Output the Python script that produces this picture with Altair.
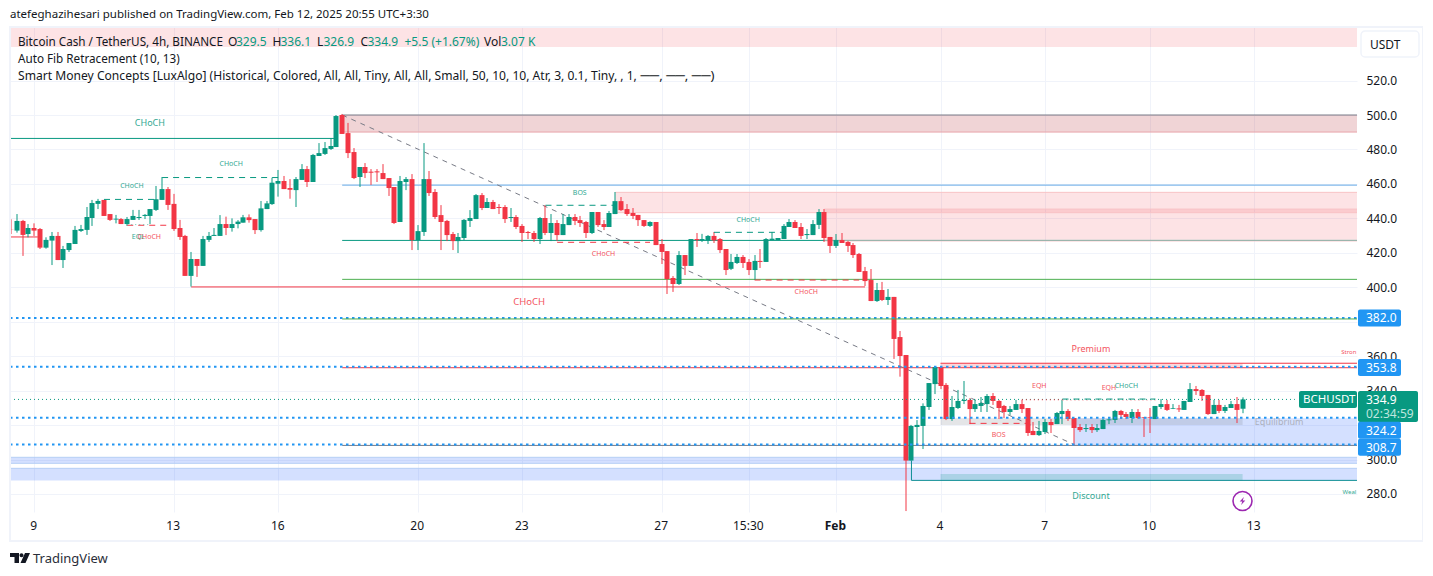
import altair as alt
import pandas as pd

FONT = "Noto Sans"
GREEN = "#089981"
RED = "#f23645"
BLUE = "#2196f3"
INK = "#131722"

opens = [433.6,432.9,438.5,430.9,434.4,433.8,423,427.1,429.8,415.8,
 421.6,425.1,432.7,433.3,440.2,448.4,450.7,442.5,439.3,439.6,
 436.7,439.1,440.2,441.4,441.4,444.9,450.7,457,448.4,434.4,
 429.8,406.6,416.4,412.4,427.5,429.8,429.8,436.7,434.4,436.7,
 437.5,440.6,439.6,433.2,445.4,448.3,460.1,461.7,457.6,456.4,
 462.3,468.6,461.1,476.2,477.4,480.3,481.4,500,489.5,478.5,
 464,469.8,467.1,467.3,466.3,463.4,458.2,437.9,461.1,462.8,
 427.4,432.1,462.8,455.3,441.9,438.5,430.9,426.8,428.6,438.5,
 439.6,453.5,446,449.5,446.6,446.6,440.2,440.8,435.6,432.1,
 431.5,428,440.2,431.5,437.3,430.3,436.1,440.8,439,437.9,
 431.5,443.7,436.7,435,442.5,450,445.4,443.1,442,439,
 435.6,437.9,425.1,421,405.4,401.9,418.7,412.4,428,427.2,
 427.2,429.8,428,422.2,410.7,414.1,417.6,414.7,410,415.3,
 414.7,427.4,427.4,428,435,437.9,435,430.3,430.3,436.2,
 443.7,429.2,424,427.4,426.3,424.5,419.3,409.4,404.2,392,
 398.4,392.6,394.4,371.1,360.7,299.4,318.9,319.5,330.5,343.8,
 353.7,343.3,323.5,329.9,334,334.6,329.3,331.1,332.2,336.9,
 334,331.1,327.6,328.8,332.2,329.9,316.6,314.2,316,321.8,
 320.6,326.4,328.2,324.1,318.9,317.7,318.9,317.1,317.7,322.8,
 323,328.2,326.4,324.1,327.6,324.7,324.7,323.5,330.5,332.2,
 329.5,329.7,328.8,333.4,340.9,340.4,337.5,326.4,331.7,328.2,
 329.9,332.2,329.5]
highs = [439.5,442.5,439.1,436.7,437.1,434.4,429,432.1,432.1,424,
 425.7,435.6,436.2,446.6,450.7,451.3,450.7,442.5,442,440.2,
 440.8,444.9,444.9,442.5,445.4,458.8,464,458.2,454.2,439.1,
 430.4,420.5,416.4,429.8,432.1,434.4,441.9,441,440,439,
 442,442.3,439.6,450.1,450.1,463.6,468.1,464.6,462.8,464,
 471.5,470.4,477.4,483.7,484.3,486.6,500,500.6,495.4,480.8,
 469.8,472.1,468.6,468.6,471.5,463.4,458.2,464.6,464,465.7,
 436.1,483.7,467.5,457,447.7,439.1,432.1,431.5,439.6,444.8,
 454.1,454.7,451.8,450.7,448.3,447.7,446,441.9,436.7,432.7,
 432.7,440.8,447.7,442.5,439,442.5,442.5,442.5,441.4,438.5,
 443.7,443.7,439,444.3,455.3,452.4,448.3,446,442,439,
 438.3,437.9,428,421,406.5,421,418.7,428,431.5,431,
 430.3,432.1,428.6,422.2,419.3,419.3,418.7,416.4,418.7,422.2,
 428.6,432.1,428.6,436.7,439.6,439,437.3,433.8,439,445.4,
 445.4,429.2,430.9,431.5,426.9,425.7,419.9,411.8,410.6,402.5,
 403.1,399,394.4,374.6,360.7,320.1,322.9,332.6,344.4,353.7,
 353.7,344.4,336.9,340.4,345.6,335.7,334.6,336.3,338,338.6,
 334.6,331.7,331.1,334.6,334.6,329.9,321.8,322.4,323.5,323.5,
 327.6,334.6,329.3,324.1,320.6,320.6,320.6,320.6,323.5,324.7,
 328.8,328.8,327.6,329.3,329.3,324.7,329.9,331.1,335.1,334.6,
 332.2,331.7,334,344.4,342.7,340.9,337.5,334.6,334.6,331.7,
 334,336.3,336.1]
lows = [430.9,431.7,418.2,429,429.8,422.2,422.4,412.9,415.8,411.2,
 420.5,425.1,432.1,430.4,435.6,445.4,441.4,438.5,437.1,436.7,
 435.6,439.1,439.1,439.6,436.7,444.3,450.7,444.9,432.7,427.5,
 406.6,400.4,406,412.4,426.3,429.8,429.8,430.3,432.3,434.2,
 437.5,437.5,430.9,432.3,445.4,447.8,452.6,457,451.4,446.6,
 462.3,458.2,461.1,476.2,476.8,479.7,481.4,489,475,462.8,
 458.2,463.4,459.4,461.1,462.8,453,436.7,437.9,456.4,421.6,
 421.6,429.8,453,439.6,421.6,426.8,421.6,419.9,427.4,435,
 439.6,444.8,446,445.4,442.5,437.3,437.9,433.8,426.3,428,
 426.3,425.1,430.3,426.8,426.8,430.3,436.1,436.1,435,428.6,
 430.9,435,433.2,435,442.5,444.3,441.4,439.6,435.6,435,
 435,424.5,413.5,396.1,397.3,401.3,407.1,412.4,423.4,426.3,
 425.1,425.7,419.9,407.1,410,413.5,411.2,407.1,404.2,411.2,
 414.7,427.4,427.4,428,435,434.4,428,428,430.3,433.8,
 426.3,419.9,422.8,425.7,420.5,417,408.9,400.7,392,391.5,
 392,389.7,358.4,348.1,270.1,299.4,308.4,306.1,328.8,338,
 340.9,322.9,322.4,329.3,332.2,320.6,327.6,327.6,327.6,331.7,
 323.5,324.1,325.9,328.8,327,313.7,314.2,313.7,314.8,315.4,
 320.6,320.6,322.4,308.4,316,316,315.4,316,317.7,320.6,
 321.2,323.5,323.5,321.2,323.5,313.1,315.4,323.5,329.3,328.2,
 329.3,327.6,328.8,333.4,337.5,334,325.9,326.4,327,327,
 329.9,321.2,326.9]
closes = [433.5,438.5,430.4,434.4,432.9,423,427.5,429.8,415.8,422.2,
 425.7,433.3,433.8,440.8,448.9,450.1,441.4,439.1,439.8,436.7,
 439.6,441.4,440.8,442,445.4,451.1,457,447.8,433.8,429.2,
 406.6,416.4,412.4,428,429.8,430.4,436.7,434.4,436.7,438.1,
 440.6,439,433.2,445.8,448.7,460.7,461.7,457,456.6,462.8,
 468.6,461.1,476.8,477.9,480.8,482,499.4,489,477.9,463.4,
 469.8,466.3,466.5,466.7,462.8,457.6,437.3,461.7,462.8,427.4,
 432.6,462.8,454.7,440.8,437.9,430.3,426.8,429.2,439.1,440.2,
 453.5,446,449.5,445.4,446,439.6,440.8,435,431.5,431.5,
 428,440.2,431.5,437.3,430.3,436.7,440.8,438.5,437.3,431.5,
 443.7,436.1,435,443.1,450,444.8,442.5,441.4,439,435.6,
 437.9,424.5,420.5,404.8,401.9,418.7,412.4,428,427.4,428,
 429.8,427.2,421.6,410,414.7,417.6,414.1,410,415.3,414.7,
 428,428.2,428.6,435.6,437.9,434.4,429.8,430.9,436.7,443.7,
 428.6,424,427.4,425.7,424,418.7,408.9,403.6,392,398.4,
 392.6,394.4,370,360.1,299.4,319.5,320.1,331.1,344.4,353.7,
 342.7,323.5,330.5,334,334.6,329.3,332.2,332.8,336.9,334,
 329.9,327.6,329.3,332.2,329.3,315.4,314.2,316.6,321.8,320,
 327,328.2,323.5,318.3,317.1,318.3,317.1,318.3,323,323.3,
 328.2,325.9,324.7,327.6,324.1,324.3,324.3,331.1,332.2,328.8,
 329.9,329.1,334,340.9,339.8,336.9,326.4,331.7,328.2,330.5,
 332.2,328.8,334.9]
FIRST_BAR = -4

tick_bars = [0, 24, 42, 66, 84, 108, 123, 138, 156, 174, 192, 210]
tick_labels = ["9", "13", "16", "20", "23", "27", "15:30", "Feb", "4", "7", "10", "13"]
price_ticks = [280, 300, 320, 340, 360, 380, 400, 420, 440, 460, 480, 500, 520]

# (bar from, bar to, price from, price to, colour, opacity)
boxes = [
    ("L", "R", 551.1, 539.5, RED, 0.14),
    (53, "R", 500.0, 490.1, "#b22833", 0.2),
    (100, "R", 455.1, 443.3, RED, 0.14),
    (136, "R", 445.4, 426.9, RED, 0.14),
    ("L", "R", 301.3, 297.8, "#2962ff", 0.2),
    ("L", "R", 294.9, 287.9, "#2962ff", 0.2),
    (179, "R", 323.9, 308.2, "#2962ff", 0.2),
    (156, 208, 323.9, 320.0, "#787b86", 0.2),
    (156, 208, 291.6, 287.9, GREEN, 0.2),
    (156, 208, 355.9, 353.3, RED, 0.2),
]
# (bar from, bar to, price, colour)
solid_lines = [
    ("L", 52, 486.4, GREEN), ("L", 0.6, 429.2, RED), (27, 143, 400.2, RED),
    (53, "R", 500.0, "#787b86"), (53, "R", 490.1, "#e8a5aa"),
    (53, "R", 459.3, "#64a9e6"), (53, "R", 427.2, GREEN),
    (53, "R", 404.6, "#4caf50"),
    (53, "R", 353.3, RED), (156, "R", 355.9, RED),
    (53, "R", 308.2, "#787b86"), (151, "R", 287.9, "#0f8f95"),
    ("L", "R", 301.3, "#b6cff6"), ("L", "R", 297.8, "#b6cff6"),
    ("L", "R", 294.9, "#b6cff6"),
    (100, "R", 455.1, "#f8c3c6"), (100, "R", 443.3, "#f8c3c6"),
    (136, "R", 445.4, "#f8c3c6"), (136, "R", 426.9, "#f8c3c6"),
]
top_lines = [(53, "R", 381.6, "#4caf50")]
dashed_lines = [
    (22, 42, 463.7, GREEN), (12, 21, 451.0, GREEN), (16, 23, 436.0, RED),
    (88, 100, 447.6, GREEN), (90, 106, 426.1, RED), (117, 129, 431.9, GREEN),
    (124, 142, 404.2, RED), (161, 171, 321.0, RED), (177, 193, 335.1, GREEN),
]
dotted_blue = [("L", "R", 382.2), ("L", "R", 353.8), ("L", "R", 324.2), ("L", "R", 308.7)]
small_dots = [
    ("L", 217, 334.9, GREEN), (16, 20, 436.4, "#6cc4b3"),
    (170, 177, 334.7, RED), (177, 193, 334.4, "#f7a1a8"),
]
fib_line = [(53, 179, 500.0, 308.7)]
weak_stem = [(151, 299.4, 287.9)]

# (bar, price, text, colour, size)
annotations = [
    (19.9, 495.5, "CHoCH", GREEN, 9), (33.9, 471.3, "CHoCH", GREEN, 7),
    (16.8, 458.5, "CHoCH", GREEN, 7), (17.9, 429.4, "EQL", GREEN, 7),
    (19.8, 429.2, "CHoCH", RED, 7), (85.2, 391.7, "CHoCH", RED, 9.5),
    (93.9, 454.7, "BOS", GREEN, 7), (98.0, 419.6, "CHoCH", RED, 7),
    (122.9, 438.8, "CHoCH", GREEN, 7), (132.9, 397.5, "CHoCH", RED, 7),
    (181.9, 364.2, "Premium", RED, 9), (181.9, 278.8, "Discount", GREEN, 9),
    (226.3, 362.6, "Stron", RED, 6), (226.4, 281.0, "Weal", GREEN, 6),
    (214.3, 321.6, "Equilibrium", "#a5a8b2", 9), (166.0, 314.0, "BOS", RED, 7),
    (173.0, 342.5, "EQH", RED, 7), (185.0, 341.7, "EQH", RED, 7),
    (188.0, 342.5, "CHoCH", GREEN, 7),
]

# ---- pixel frame of the pane (page coordinates) and its scales
PANE_L, PANE_R, PANE_T, PANE_B = 10, 1357, 27, 512
BAR_PX, BAR0_PX = 5.809, 34.3
P500_Y, PX_PER_USD = 115.0, 1.7227


def xd(px):
    return (px - BAR0_PX) / BAR_PX


def yd(py):
    return 500 - (py - P500_Y) / PX_PER_USD


x_dom = [xd(PANE_L), xd(PANE_R)]
y_dom = [yd(PANE_B), yd(PANE_T)]
L, R = x_dom


def edge(v):
    return {"L": L, "R": R}.get(v, v)


x_scale = alt.Scale(domain=x_dom, nice=False, zero=False, padding=0)
y_scale = alt.Scale(domain=y_dom, nice=False, zero=False, padding=0)
X = lambda f="x": alt.X(f"{f}:Q", scale=x_scale, axis=None)
Y = lambda f="y": alt.Y(f"{f}:Q", scale=y_scale, axis=None)

# Base layer carries the real axes and grid
base_df = pd.DataFrame({"x": [L], "y": [y_dom[0]]})
label_map = "{" + ",".join(f"'{b}':'{t}'" for b, t in zip(tick_bars, tick_labels)) + "}"
base = alt.Chart(base_df).mark_point(opacity=0).encode(
    x=alt.X("x:Q", scale=x_scale, axis=alt.Axis(
        values=tick_bars, title=None, grid=True, gridColor="#f0f3fa", domain=False, ticks=False,
        labelExpr=f"{label_map}[datum.value]", labelFont=FONT, labelFontSize=12, labelColor=INK,
        labelPadding=8, labelFlush=False, labelOverlap=False, labelOffset=-1,
        labelFontWeight={"condition": {"test": "datum.value == 138", "value": "bold"}, "value": "normal"})),
    y=alt.Y("y:Q", scale=y_scale, axis=alt.Axis(
        values=price_ticks, title=None, orient="right", format=".1f", grid=True, gridColor="#f0f3fa",
        domain=False, ticks=False, labelFont=FONT, labelFontSize=12, labelColor=INK,
        labelPadding=9, labelOverlap=False, labelFlush=False)),
)


def snap(bar):
    return (round(BAR0_PX + BAR_PX * bar) + 0.0 - BAR0_PX) / BAR_PX


bars = list(range(FIRST_BAR, FIRST_BAR + len(opens)))
df = pd.DataFrame({"bar": bars, "o": opens, "h": highs, "l": lows, "c": closes})
df["x"] = [snap(b) for b in bars]
df["col"] = [GREEN if c >= o else RED for o, c in zip(opens, closes)]
col = alt.Color("col:N", scale=None, legend=None)
wicks = alt.Chart(df).mark_rule(strokeWidth=1, clip=True).encode(x=X(), y=Y("h"), y2="l:Q", color=col)
bodies = alt.Chart(df).mark_bar(size=5, clip=True, orient="vertical").encode(x=X(), y=Y("o"), y2="c:Q", color=col)

box_df = pd.DataFrame([dict(x=edge(a), x2=edge(b), y=p, y2=q, col=c, op=o) for a, b, p, q, c, o in boxes])
box_layer = alt.Chart(box_df).mark_rect(clip=True).encode(
    x=X(), x2="x2:Q", y=Y(), y2="y2:Q", color=col, opacity=alt.Opacity("op:Q", scale=None, legend=None))


def hl(rows, dash=None, width=1):
    d = pd.DataFrame([dict(x=edge(a), x2=edge(b), y=p, col=c) for a, b, p, c in rows])
    kw = {"strokeDash": dash} if dash else {}
    return alt.Chart(d).mark_rule(strokeWidth=width, clip=True, **kw).encode(x=X(), x2="x2:Q", y=Y(), color=col)


solid = hl(solid_lines)
dashed = hl(dashed_lines, [6, 5])
dots = hl(small_dots, [1, 3])
blue_dots = hl([(a, b, p, BLUE) for a, b, p in dotted_blue], [2.5, 3.5], 2)
top_solid = hl(top_lines)

fib_df = pd.DataFrame([dict(x=a, x2=b, y=p, y2=q) for a, b, p, q in fib_line])
fib = alt.Chart(fib_df).mark_rule(strokeWidth=1, strokeDash=[5, 5], color="#787b86").encode(
    x=X(), x2="x2:Q", y=Y(), y2="y2:Q")
stem_df = pd.DataFrame([dict(x=a, y=p, y2=q) for a, p, q in weak_stem])
stem = alt.Chart(stem_df).mark_rule(strokeWidth=1, color="#0f8f95").encode(x=X(), y=Y(), y2="y2:Q")

ann_df = pd.DataFrame([dict(x=a, y=p, t=t, col=c, s=s) for a, p, t, c, s in annotations])
ann = alt.Chart(ann_df).mark_text(font=FONT, opacity=0.85, clip=True).encode(
    x=X(), y=Y(), text="t:N", color=col, size=alt.Size("s:Q", scale=None, legend=None))

# ---- chrome: TradingView frame, legend rows, price tags (page pixel positions)
frame_rects = [  # x0, y0, x1, y1, fill
    (9, 26, 1424, 28, "#f0f3fa"), (9, 540, 1424, 542, "#f0f3fa"),
    (9, 26, 11, 542, "#f0f3fa"), (1422, 26, 1424, 542, "#f0f3fa"),
    (1299, 391, 1357, 408, GREEN), (1358, 391, 1418, 422, GREEN),
    (1358, 309.5, 1401, 326.5, BLUE), (1358, 359, 1401, 376, BLUE),
    (1358, 421.7, 1401, 438.7, BLUE), (1358, 438.7, 1401, 455.7, BLUE),
]
fr = pd.DataFrame([dict(x=xd(a), y=yd(b), x2=xd(c), y2=yd(d), col=e) for a, b, c, d, e in frame_rects])
frames = alt.Chart(fr).mark_rect(cornerRadius=2).encode(x=X(), x2="x2:Q", y=Y(), y2="y2:Q", color=col)
usdt_df = pd.DataFrame([dict(x=xd(1361), y=yd(31), x2=xd(1419), y2=yd(57))])
usdt = alt.Chart(usdt_df).mark_rect(fill="white", stroke="#f0f3fa", strokeWidth=1.5, cornerRadius=4).encode(
    x=X(), x2="x2:Q", y=Y(), y2="y2:Q")

TL = "atefeghazihesari published on TradingView.com, Feb 12, 2025 20:55 UTC+3:30"
SMC = ("Smart Money Concepts [LuxAlgo] (Historical, Colored, All, All, Tiny, All, All, Small, "
       "50, 10, 10, Atr, 3, 0.1, Tiny, , 1,")
SMC_END = "\u2500\u2500, \u2500\u2500, \u2500\u2500)"
WHITE = "#ffffff"
chrome_text = [  # x, y, text, colour, size
    (10, 14.5, TL, INK, 11.5),
    (18, 41.5, "Bitcoin Cash / TetherUS, 4h, BINANCE", INK, 11.7),
    (228, 41.5, "O", INK, 12), (236, 41.5, "329.5", GREEN, 12),
    (272.5, 41.5, "H", INK, 12), (280.5, 41.5, "336.1", GREEN, 12),
    (317, 41.5, "L", INK, 12), (323.5, 41.5, "326.9", GREEN, 12),
    (360.5, 41.5, "C", INK, 12), (367.5, 41.5, "334.9", GREEN, 12),
    (404.5, 41.5, "+5.5 (+1.67%)", GREEN, 12), (484, 41.5, "Vol", INK, 12),
    (501, 41.5, "3.07 K", GREEN, 12),
    (18, 59, "Auto Fib Retracement (10, 13)", INK, 11.7),
    (18, 76, SMC, INK, 12.1), (640.5, 76, SMC_END, INK, 13.2),
    (1370, 44.5, "USDT", INK, 12),
    (1303, 400, "BCHUSDT", WHITE, 11.5),
    (1366, 400, "334.9", WHITE, 12), (1366, 413.5, "02:34:59", "#bfe6df", 12),
    (1366, 318, "382.0", WHITE, 12), (1366, 367.5, "353.8", WHITE, 12),
    (1366, 430.5, "324.2", WHITE, 12), (1366, 447.5, "308.7", WHITE, 12),
    (33, 558.5, "TradingView", "#2a2e39", 13),
]
ct = pd.DataFrame([dict(x=xd(a), y=yd(b), t=t, col=c, s=s) for a, b, t, c, s in chrome_text])
chrome = alt.Chart(ct).mark_text(font=FONT, align="left", baseline="middle").encode(
    x=X(), y=Y(), text="t:N", color=col, size=alt.Size("s:Q", scale=None, legend=None))

LOGO = ("M-1,-0.5 H-0.1 V0.5 H-0.55 V-0.1 H-1 Z "
        "M-0.05,-0.28 A0.2,0.2 0 1 0 0.35,-0.28 A0.2,0.2 0 1 0 -0.05,-0.28 Z "
        "M1,-0.5 L0.55,0.5 H0.05 L0.5,-0.5 Z")
BOLT = "M0.35,-1 L-0.7,0.15 H-0.05 L-0.35,1 L0.7,-0.15 H0.05 Z"
logo = alt.Chart(pd.DataFrame([dict(x=xd(20), y=yd(558))])).mark_point(
    shape=LOGO, size=400, filled=True, color="#131722", opacity=1).encode(x=X(), y=Y())
ring = alt.Chart(pd.DataFrame([dict(x=xd(1242.5), y=yd(501))])).mark_point(
    shape="circle", size=361, filled=False, color="#9c27b0", strokeWidth=1.6, opacity=1).encode(x=X(), y=Y())
bolt = alt.Chart(pd.DataFrame([dict(x=xd(1242.5), y=yd(501))])).mark_point(
    shape=BOLT, size=64, filled=True, color="#9c27b0", opacity=1).encode(x=X(), y=Y())

chart = alt.layer(
    base, box_layer, solid, fib, wicks, bodies, stem, dashed, dots, blue_dots, top_solid, ann,
    frames, usdt, chrome, logo, ring, bolt,
).resolve_axis(x="independent", y="independent").properties(
    width=PANE_R - PANE_L,
    height=PANE_B - PANE_T,
    padding={"left": 2, "top": 19, "right": 66, "bottom": 56},
    autosize=alt.AutoSizeParams(type="none"),
    background="white",
).configure_view(strokeWidth=0)

chart.save("out.html", embed_options={"renderer": "svg", "actions": False})
